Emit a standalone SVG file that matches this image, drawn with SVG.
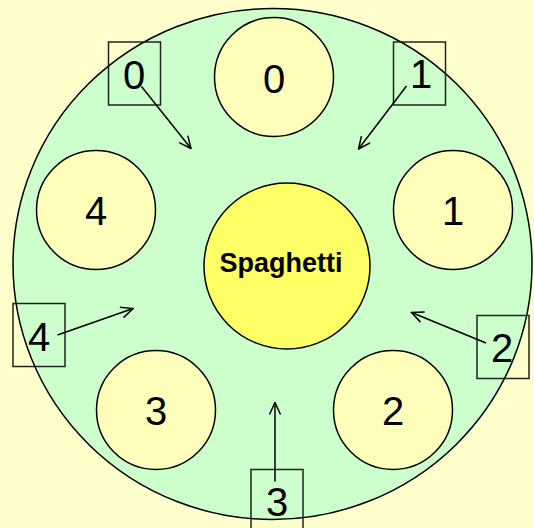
<svg xmlns="http://www.w3.org/2000/svg" width="534" height="528" viewBox="0 0 534 528">
<defs>
<marker id="ah" markerUnits="userSpaceOnUse" viewBox="0 0 14 14" refX="13" refY="7" markerWidth="14" markerHeight="14" orient="auto">
<path d="M1,1.5 L13,7 L1,12.5" fill="none" stroke="#000" stroke-width="1.5"/>
</marker>
</defs>
<style>
.seat{fill:#FFFFBB;stroke:#000;stroke-width:1.5}
.num{font-family:"Liberation Sans",Arial,sans-serif;font-size:40px;fill:#000;text-anchor:middle}
.box{fill:none;stroke:#222;stroke-width:1.5}
.arr{stroke:#000;stroke-width:1.5;fill:none;marker-end:url(#ah)}
</style>
<rect width="534" height="528" fill="#FFFFCC"/>
<g id="table">
<ellipse cx="272.5" cy="264" rx="259.5" ry="255.5" fill="#CCFFCC" stroke="#000" stroke-width="1.5"/>
</g>
<g id="spaghetti">
<circle cx="287" cy="266" r="83" fill="#FFFF66" stroke="#000" stroke-width="1.5"/>
<text x="281" y="272" font-family="'Liberation Sans',Arial,sans-serif" font-size="27" font-weight="bold" text-anchor="middle">Spaghetti</text>
</g>
<g id="seat0"><circle class="seat" cx="274" cy="77" r="59.5"/><text class="num" x="274" y="93">0</text></g>
<g id="seat1"><circle class="seat" cx="453" cy="210" r="59.5"/><text class="num" x="453" y="225">1</text></g>
<g id="seat2"><circle class="seat" cx="393" cy="410" r="59.5"/><text class="num" x="393" y="425">2</text></g>
<g id="seat3"><circle class="seat" cx="156" cy="410" r="59.5"/><text class="num" x="156" y="425">3</text></g>
<g id="seat4"><circle class="seat" cx="96" cy="210" r="59.5"/><text class="num" x="96" y="225">4</text></g>
<g id="fork0"><rect class="box" x="108.5" y="42" width="52" height="63"/><text class="num" x="134" y="89">0</text></g>
<g id="fork1"><rect class="box" x="393.5" y="42" width="52" height="63"/><text class="num" x="421" y="88">1</text></g>
<g id="fork2"><rect class="box" x="477" y="315.5" width="52" height="63"/><text class="num" x="502" y="362">2</text></g>
<g id="fork3"><rect class="box" x="251" y="469.5" width="52" height="63"/><text class="num" x="277" y="516">3</text></g>
<g id="fork4"><rect class="box" x="13" y="303.5" width="52" height="63"/><text class="num" x="39" y="351">4</text></g>
<g id="connectors">
<line class="arr" x1="141.5" y1="86.5" x2="191" y2="148.5"/>
<line class="arr" x1="406.5" y1="86" x2="358.5" y2="149"/>
<line class="arr" x1="486" y1="343" x2="411.5" y2="312.5"/>
<line class="arr" x1="57.5" y1="335" x2="133" y2="308.5"/>
<line class="arr" x1="275" y1="481.5" x2="275" y2="402.5"/>
</g>
</svg>
